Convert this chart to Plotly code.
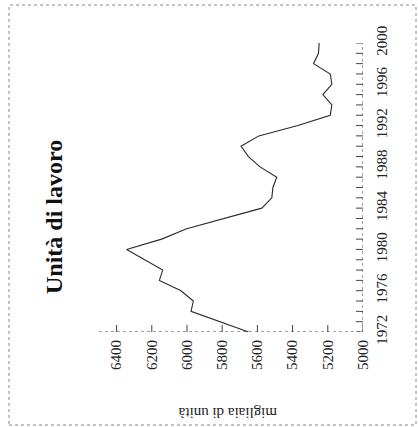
import plotly.graph_objects as go

years = [1972, 1974, 1975, 1976, 1977, 1978, 1980, 1981, 1982, 1983, 1984, 1985,
         1986, 1987, 1988, 1989, 1990, 1991, 1992, 1993, 1994, 1995, 1996, 1997,
         1998, 1999, 2000]
values = [5650, 5977, 5964, 6034, 6157, 6138, 6343, 6144, 6002, 5793, 5575, 5518,
          5512, 5490, 5585, 5651, 5693, 5592, 5370, 5186, 5177, 5228, 5177, 5186,
          5281, 5253, 5249]

value_ticks = [6400, 6200, 6000, 5800, 5600, 5400, 5200, 5000]
year_ticks = list(range(1972, 2001))
year_labels = [1972, 1976, 1980, 1984, 1988, 1992, 1996, 2000]
value_range = [6500, 5000]
year_range = [1972, 2000]

title = "Unità di lavoro"
ytitle = "migliaia di unità"

serif = "Liberation Serif, Times New Roman, serif"
axis_col = "#444444"

fig = go.Figure()

# axis lines (dotted)
fig.add_trace(go.Scatter(x=value_range, y=[year_range[0]] * 2, mode="lines",
                         line=dict(color=axis_col, width=1, dash="dot"),
                         hoverinfo="skip", showlegend=False))
fig.add_trace(go.Scatter(x=[value_range[1]] * 2, y=year_range, mode="lines",
                         line=dict(color=axis_col, width=1, dash="dot"),
                         hoverinfo="skip", showlegend=False))
# cross ticks
fig.add_trace(go.Scatter(x=value_ticks, y=[year_range[0]] * len(value_ticks), mode="markers",
                         marker=dict(symbol="line-ns", size=10, line=dict(color=axis_col, width=1)),
                         hoverinfo="skip", showlegend=False))
fig.add_trace(go.Scatter(x=[value_range[1]] * len(year_ticks), y=year_ticks, mode="markers",
                         marker=dict(symbol="line-ew", size=10, line=dict(color=axis_col, width=1)),
                         hoverinfo="skip", showlegend=False))

# data line
fig.add_trace(go.Scatter(x=values, y=years, mode="lines",
                         line=dict(color="#2a2a2a", width=1.1),
                         showlegend=False))

fig.update_xaxes(range=value_range, tickvals=value_ticks, ticktext=[str(v) for v in value_ticks],
                 tickangle=-90, showgrid=False, zeroline=False, showline=False, automargin=False,
                 ticks="outside", ticklen=1, tickcolor="rgba(0,0,0,0)",
                 tickfont=dict(family=serif, size=15, color="#222"))
fig.update_yaxes(range=year_range, side="right", tickvals=year_labels,
                 ticktext=[str(y) for y in year_labels], tickangle=-90,
                 showgrid=False, zeroline=False, showline=False, automargin=False,
                 ticks="outside", ticklen=5, tickcolor="rgba(0,0,0,0)",
                 tickfont=dict(family=serif, size=15, color="#222"))

L, R, T, B = 99, 55, 43, 95
pw, ph = 418 - L - R, 427 - T - B

fig.add_annotation(text="<b>" + title + "</b>", xref="paper", yref="paper",
                   x=(54 - L) / pw, y=(332 - 217) / ph, showarrow=False, textangle=-90,
                   xanchor="center", yanchor="middle",
                   font=dict(family=serif, size=24, color="#111"))
fig.add_annotation(text=ytitle, xref="paper", yref="paper",
                   x=(228 - L) / pw, y=(332 - 413) / ph, showarrow=False, textangle=180,
                   xanchor="center", yanchor="middle",
                   font=dict(family=serif, size=15, color="#222"))

fig.add_shape(type="rect", xref="paper", yref="paper",
              x0=(9 - L) / pw, x1=(416 - L) / pw, y0=(332 - 425) / ph, y1=(332 - 5) / ph,
              line=dict(color="#888888", width=1, dash="dot"))

fig.update_layout(width=418, height=427, margin=dict(l=L, r=R, t=T, b=B),
                  paper_bgcolor="white", plot_bgcolor="white")

fig.write_html("out.html", config={"displayModeBar": False},
               post_script="document.body.style.margin='0';document.body.style.overflow='hidden';")
